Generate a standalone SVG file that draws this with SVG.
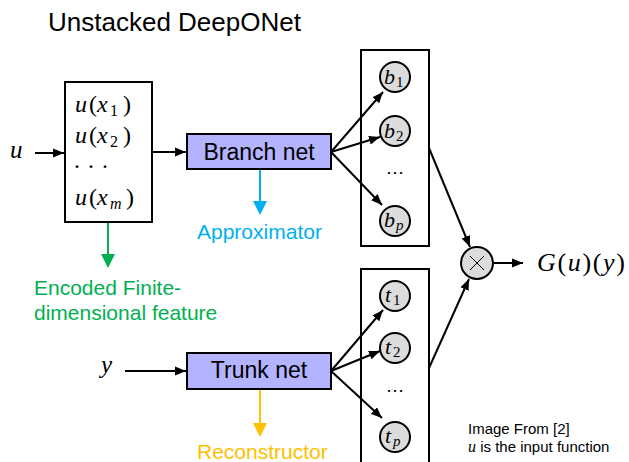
<svg xmlns="http://www.w3.org/2000/svg" width="629" height="462" viewBox="0 0 629 462">
  <style>
    .sans { font-family: "Liberation Sans", Arial, sans-serif; }
    .math { font-family: "Liberation Serif", "Times New Roman", serif; }
    .it { font-style: italic; }
    .box { fill: #ffffff; stroke: #000; stroke-width: 2; }
    .net { fill: #b3b3ff; stroke: #000; stroke-width: 2; }
    .unit { fill: #dcdcdc; stroke: #000; stroke-width: 2; }
    .wire { fill: none; stroke: #000; stroke-width: 2; marker-end: url(#ah); }
    .cross { fill: none; stroke: #000; stroke-width: 1; }
  </style>
  <defs>
    <marker id="ah" markerWidth="12" markerHeight="10" refX="11" refY="5" orient="auto" markerUnits="userSpaceOnUse">
      <path d="M0,0.5 L11,5 L0,9.5 z" fill="#000"/>
    </marker>
  </defs>

  <rect width="629" height="462" fill="#ffffff"/>

  <text class="sans" x="48" y="31" font-size="26" fill="#000">Unstacked DeepONet</text>

  <!-- input samples -->
  <g id="input-u">
    <text class="math it" x="10" y="158" font-size="25">u</text>
  </g>
  <g id="samples">
    <rect class="box" x="65" y="82" width="87" height="140"/>
    <text class="math" font-size="24" y="112"><tspan class="it" x="75">u</tspan><tspan x="89">(</tspan><tspan class="it" x="97">x</tspan><tspan x="110" dy="4" font-size="16">1</tspan><tspan x="123" dy="-4">)</tspan></text>
    <text class="math" font-size="24" y="143"><tspan class="it" x="75">u</tspan><tspan x="89">(</tspan><tspan class="it" x="97">x</tspan><tspan x="110" dy="4" font-size="16">2</tspan><tspan x="123" dy="-4">)</tspan></text>
    <text class="math" font-size="24" x="73" y="174">· · ·</text>
    <text class="math" font-size="24" y="205"><tspan class="it" x="75">u</tspan><tspan x="89">(</tspan><tspan class="it" x="97">x</tspan><tspan class="it" x="110" dy="4" font-size="16">m</tspan><tspan x="126" dy="-4">)</tspan></text>
  </g>

  <g id="branch-net">
    <rect class="net" x="187" y="134" width="144" height="35"/>
    <text class="sans" x="259" y="160" font-size="23" text-anchor="middle" fill="#000">Branch net</text>
  </g>

  <g id="input-y">
    <text class="math it" x="101" y="373" font-size="25">y</text>
  </g>
  <g id="trunk-net">
    <rect class="net" x="187" y="353" width="144" height="36"/>
    <text class="sans" x="259" y="378" font-size="23" text-anchor="middle" fill="#000">Trunk net</text>
  </g>

  <!-- branch outputs -->
  <g id="branch-out">
    <rect class="box" x="361" y="50" width="68" height="196"/>
    <circle class="unit" cx="395" cy="77" r="15"/>
    <text class="math" font-size="22" y="84"><tspan class="it" x="384">b</tspan><tspan x="396" dy="3" font-size="15">1</tspan></text>
    <circle class="unit" cx="395" cy="131" r="15"/>
    <text class="math" font-size="22" y="138"><tspan class="it" x="384">b</tspan><tspan x="396" dy="3" font-size="15">2</tspan></text>
    <text class="math" font-size="18" x="395" y="178" text-anchor="middle">⋯</text>
    <circle class="unit" cx="395" cy="221" r="15"/>
    <text class="math" font-size="22" y="227"><tspan class="it" x="384">b</tspan><tspan class="it" x="396" dy="3" font-size="15">p</tspan></text>
  </g>

  <!-- trunk outputs -->
  <g id="trunk-out">
    <rect class="box" x="361" y="269" width="68" height="200"/>
    <circle class="unit" cx="395" cy="296" r="15"/>
    <text class="math" font-size="22" y="302"><tspan class="it" x="385">t</tspan><tspan x="393" dy="3" font-size="15">1</tspan></text>
    <circle class="unit" cx="395" cy="348" r="15"/>
    <text class="math" font-size="22" y="354"><tspan class="it" x="385">t</tspan><tspan x="393" dy="3" font-size="15">2</tspan></text>
    <text class="math" font-size="18" x="395" y="396" text-anchor="middle">⋯</text>
    <circle class="unit" cx="395" cy="437" r="15"/>
    <text class="math" font-size="22" y="443"><tspan class="it" x="385">t</tspan><tspan class="it" x="393" dy="3" font-size="15">p</tspan></text>
  </g>

  <g id="product">
    <circle class="unit" cx="477" cy="263" r="16"/>
    <path class="cross" d="M470,256 L484,270 M484,256 L470,270"/>
  </g>

  <g id="output">
    <text class="math" font-size="26" y="271" textLength="88" lengthAdjust="spacing"><tspan class="it" x="537">G</tspan>(<tspan class="it">u</tspan>)(<tspan class="it">y</tspan>)</text>
  </g>

  <!-- annotations -->
  <g id="approximator">
    <text class="sans" x="197" y="239" font-size="21" fill="#00b0f0">Approximator</text>
  </g>
  <g id="encoded">
    <text class="sans" x="34" y="295" font-size="21" fill="#00b050">Encoded Finite-</text>
    <text class="sans" x="34" y="320" font-size="21" fill="#00b050">dimensional feature</text>
  </g>
  <g id="reconstructor">
    <text class="sans" x="197" y="459" font-size="21" fill="#ffc000">Reconstructor</text>
  </g>
  <g id="note">
    <text class="sans" x="468" y="434" font-size="15" fill="#000">Image From [2]</text>
    <text class="sans" y="452" font-size="15" fill="#000"><tspan class="math it" x="468" font-size="16">u</tspan> is the input function</text>
  </g>

  <!-- connectors -->
  <g id="connectors">
    <line class="wire" x1="35" y1="153" x2="64" y2="153"/>
    <line class="wire" x1="152" y1="152" x2="186" y2="152"/>
    <line class="wire" x1="125" y1="371" x2="186" y2="371"/>

    <line class="wire" x1="331" y1="152" x2="383" y2="92"/>
    <line class="wire" x1="331" y1="152" x2="380" y2="137"/>
    <line class="wire" x1="331" y1="152" x2="382" y2="205"/>

    <line class="wire" x1="331" y1="371" x2="383" y2="310"/>
    <line class="wire" x1="331" y1="371" x2="380" y2="351"/>
    <line class="wire" x1="331" y1="371" x2="382" y2="418"/>

    <line class="wire" x1="429" y1="148" x2="470" y2="247"/>
    <line class="wire" x1="429" y1="368" x2="469" y2="279"/>
    <line class="wire" x1="493" y1="263" x2="523" y2="263"/>

    <line x1="260" y1="170" x2="260" y2="203" stroke="#00b0f0" stroke-width="2"/>
    <path d="M253,201 L267,201 L260,215 z" fill="#00b0f0"/>

    <line x1="108" y1="223" x2="108" y2="256" stroke="#00b050" stroke-width="2"/>
    <path d="M101,254 L115,254 L108,268 z" fill="#00b050"/>

    <line x1="260" y1="390" x2="260" y2="425" stroke="#ffc000" stroke-width="2"/>
    <path d="M253,423 L267,423 L260,437 z" fill="#ffc000"/>
  </g>
</svg>
